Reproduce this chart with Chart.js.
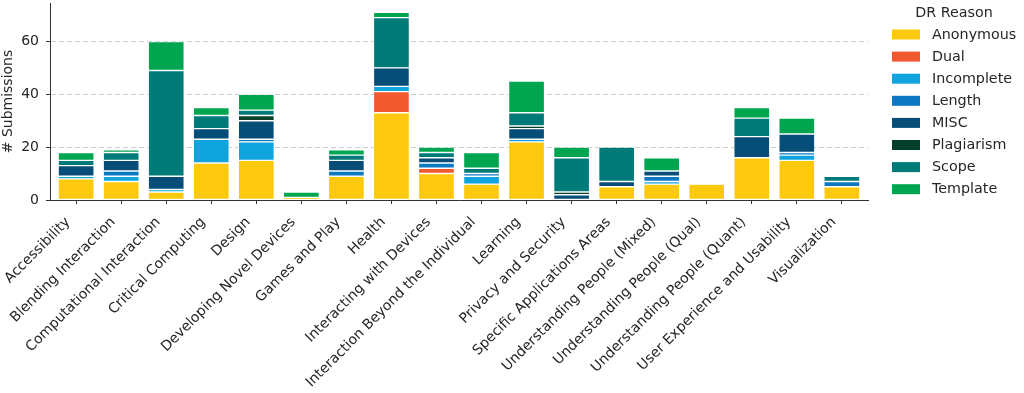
<!DOCTYPE html>
<html>
<head>
<meta charset="utf-8">
<script src="https://cdn.jsdelivr.net/npm/chart.js@4"></script>
<style>
html,body{margin:0;padding:0;background:#fff;}
#wrap{width:1024px;height:393px;position:relative;}
</style>
</head>
<body>
<div id="wrap"><canvas id="c" width="1024" height="393"></canvas></div>
<script>
const categories = ["Accessibility","Blending Interaction","Computational Interaction","Critical Computing","Design","Developing Novel Devices","Games and Play","Health","Interacting with Devices","Interaction Beyond the Individual","Learning","Privacy and Security","Specific Applications Areas","Understanding People (Mixed)","Understanding People (Qual)","Understanding People (Quant)","User Experience and Usability","Visualization"];
const reasons = ["Anonymous","Dual","Incomplete","Length","MISC","Plagiarism","Scope","Template"];
const anonymous  = [8,7,3,14,15,1,9,33,10,6,22,0,5,6,6,16,15,5];
const dual       = [0,0,0,0,0,0,0,8,2,0,0,0,0,0,0,0,0,0];
const incomplete = [1,2,1,9,7,0,0,2,0,3,1,0,0,1,0,0,2,0];
const lengthR    = [0,2,0,0,1,0,2,0,2,1,0,0,0,2,0,0,1,2];
const misc       = [4,4,5,4,7,0,4,7,2,0,4,2,2,2,0,8,7,0];
const plagiarism = [0,0,0,0,2,0,0,0,0,0,1,1,0,0,0,0,0,0];
const scope      = [2,3,40,5,2,0,2,19,2,2,5,13,13,0,0,7,0,2];
const template   = [3,1,11,3,6,2,2,2,2,6,12,4,0,5,0,4,6,0];
const yTicks = [0,20,40,60];
const colors = ["#FCC90E","#F15A2F","#10A4DE","#0B78C1","#064E78","#043F2C","#007A78","#00A550"];

const series = [anonymous,dual,incomplete,lengthR,misc,plagiarism,scope,template];
const datasets = series.map((vals,k)=>({
  label: reasons[k],
  data: vals.map((v,i)=>({x:i,y:v})),
  backgroundColor: colors[k],
  borderColor: "#ffffff",
  borderWidth: 0.7,
  borderSkipped: false,
  barPercentage: 0.8,
  categoryPercentage: 1.0
}));

const FONT = "DejaVu Sans";
const TXT = "#262626";

const legendPlugin = {
  id: "customLegend",
  afterDraw(chart){
    const ctx = chart.ctx;
    ctx.save();
    ctx.font = "14.3px '" + FONT + "'";
    ctx.fillStyle = TXT;
    ctx.textBaseline = "middle";
    ctx.textAlign = "center";
    ctx.fillText("DR Reason", 954, 13);
    ctx.textAlign = "left";
    chart.data.datasets.forEach((ds,i)=>{
      const cy = 34.5 + i*22.1;
      ctx.fillStyle = ds.backgroundColor;
      ctx.fillRect(892, cy-5, 28, 10);
      ctx.fillStyle = TXT;
      ctx.fillText(ds.label, 932, cy+0.5);
    });
    ctx.restore();
  }
};

new Chart(document.getElementById("c"), {
  type: "bar",
  data: { datasets },
  plugins: [legendPlugin],
  options: {
    responsive: false,
    animation: false,
    devicePixelRatio: 1,
    layout: { autoPadding: false, padding: { top: 3, right: 156, left: 0, bottom: 0 } },
    plugins: { legend: { display: false }, tooltip: { enabled: false } },
    scales: {
      x: {
        type: "linear",
        stacked: true,
        offset: false,
        min: -0.58,
        max: 17.58,
        afterBuildTicks(scale){ scale.ticks = categories.map((_,i)=>({value:i})); },
        afterFit(scale){ scale.height = 193; scale.paddingLeft = 0; scale.paddingRight = 0; },
        ticks: {
          autoSkip: false,
          maxRotation: 45,
          minRotation: 45,
          padding: 10,
          labelOffset: -8,
          color: TXT,
          font: { family: FONT, size: 14 },
          callback: (v)=> categories[v]
        },
        grid: { offset: false, drawOnChartArea: false, drawTicks: true, tickLength: 4, tickColor: "#333333", tickWidth: 1 },
        border: { display: true, color: "#333333", width: 1, z: 1 }
      },
      y: {
        stacked: true,
        min: 0,
        max: 74.55,
        afterBuildTicks(scale){ scale.ticks = yTicks.map(v=>({value:v})); },
        afterFit(scale){ scale.width = 50; scale.paddingTop = 0; scale.paddingBottom = 0; },
        ticks: {
          padding: 7,
          color: TXT,
          font: { family: FONT, size: 14 }
        },
        grid: { color: "#cccccc", lineWidth: 1, tickLength: 4, tickColor: "#333333", tickWidth: 1, tickBorderDash: [] },
        border: { display: true, color: "#333333", width: 1, dash: [5,3], z: 1 },
        title: { display: true, text: "# Submissions", color: TXT, font: { family: FONT, size: 14 }, padding: 0 }
      }
    }
  }
});
</script>
</body>
</html>
